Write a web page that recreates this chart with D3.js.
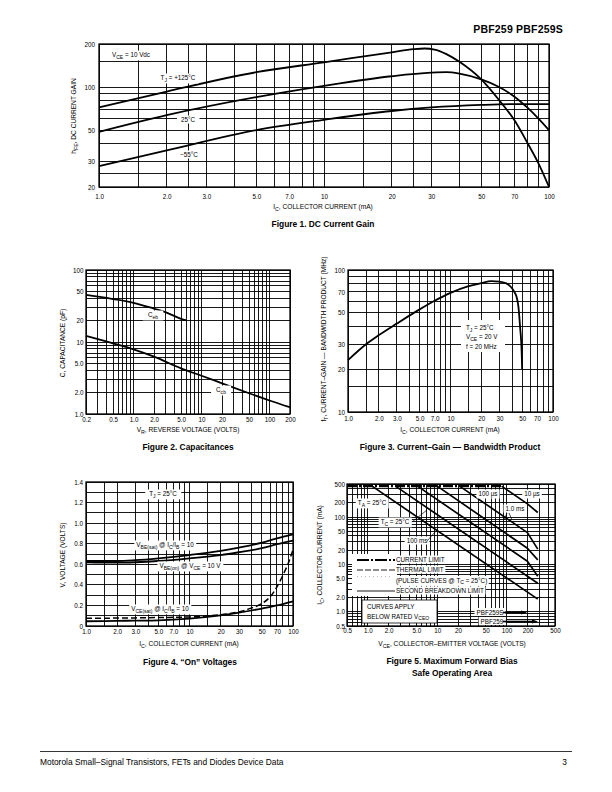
<!DOCTYPE html>
<html><head><meta charset="utf-8">
<script src="https://cdn.jsdelivr.net/npm/d3@7"></script>
<style>
body{margin:0;background:#fff}
svg{display:block}
text{font-family:"Liberation Sans",Arial,Helvetica,sans-serif;fill:#000}
</style>
</head><body><script>
// ---------------- DATA ----------------
// Figure 1: DC current gain
const fig1XTicks=[1,2,3,5,7,10,20,30,50,70,100];
const fig1XLabels=["1.0","2.0","3.0","5.0","7.0","10","20","30","50","70","100"];
const fig1YTicks=[20,30,50,100,200];
const fig1YLabels=["20","30","50","100","200"];
const fig1XGrid=[1,1.5,2,2.5,3,4,5,6,7,8,9,10,15,20,25,30,40,50,60,70,80,90,100];
const fig1YGrid=[20,25,30,40,50,60,70,80,90,100,150,200];
const hfe125Ic=[1,2,5,10,20,25,28,31,35,40,50,60,70,80,90,100];
const hfe125  =[72,93,127,149,175,184,186,183,170,150,113,81,59,41,29,20];
const hfe25Ic =[1,2,5,10,20,30,35,40,50,60,70,80,90,100];
const hfe25   =[48.6,63.6,85,102,119,126,127,124,113,100,86,72,60,50];
const hfe55Ic =[1,2,5,10,20,30,50,70,100];
const hfe55   =[28,36,50,59,68,72,75,76,76];

// Figure 2: capacitances
const fig2XTicks=[0.2,0.5,1,2,5,10,20,50,100,200];
const fig2XLabels=["0.2","0.5","1.0","2.0","5.0","10","20","50","100","200"];
const fig2YTicks=[1,2,5,10,20,50,100];
const fig2YLabels=["1.0","2.0","5.0","10","20","50","100"];
const cebVr=[0.2,0.5,1,2,3,5,6];
const ceb  =[45,39.5,35,29,25.8,21,20];
const ccbVr=[0.2,0.5,1,2,5,10,20,50,100,200];
const ccb  =[12.2,9.6,7.9,6.25,4.3,3.4,2.67,1.94,1.54,1.24];

// Figure 3: fT
const fig3XTicks=[1,2,3,5,7,10,20,30,50,70,100];
const fig3XLabels=["1.0","2.0","3.0","5.0","7.0","10","20","30","50","70","100"];
const fig3YTicks=[10,20,30,50,70,100];
const fig3YLabels=["10","20","30","50","70","100"];
const fig3XGrid=[1,1.5,2,3,4,5,6,7,8,9,10,15,20,30,40,50,60,70,80,90,100];
const fig3YGrid=[10,15,20,30,40,50,60,70,80,90,100];
const ftIc=[1,1.5,2,3,5,7,10,15,20,25,30,35,40,42,44.3,46,47.7,49.5,50];
const ft  =[23.2,30,34.8,42,52.8,60.7,69,77,81,83.6,82.7,80.5,74,70,64,55,40,26,20];

// Figure 4: "On" voltages
const fig4XTicks=[1,2,3,5,7,10,20,30,50,70,100];
const fig4XLabels=["1.0","2.0","3.0","5.0","7.0","10","20","30","50","70","100"];
const fig4YTicks=[0,0.2,0.4,0.6,0.8,1.0,1.2,1.4];
const fig4YLabels=["0","0.2","0.4","0.6","0.8","1.0","1.2","1.4"];
const fig4XGrid=[1,1.5,2,3,4,5,6,7,8,9,10,15,20,30,40,50,60,70,80,90,100];
const onIc=[1,2,3,5,10,20,30,50,70,100];
const vbeSat=[0.632,0.632,0.64,0.658,0.69,0.73,0.762,0.81,0.853,0.892];
const vbeOn =[0.619,0.616,0.62,0.632,0.658,0.69,0.717,0.756,0.795,0.83];
const vceSat=[0.046,0.05,0.052,0.055,0.072,0.104,0.13,0.17,0.2,0.24];
const vceSatHotIc=[1,2,5,10,20,30,40,50,60,70,80,90,100];
const vceSatHot  =[0.075,0.077,0.082,0.088,0.11,0.137,0.176,0.218,0.283,0.38,0.495,0.61,0.74];

// Figure 5: SOA
const fig5XTicks=[0.5,1,2,5,10,20,50,100,200,500];
const fig5XLabels=["0.5","1.0","2.0","5.0","10","20","50","100","200","500"];
const fig5YTicks=[0.5,1,2,5,10,20,50,100,200,500];
const fig5YLabels=["0.5","1.0","2.0","5.0","10","20","50","100","200","500"];
const currentLimitV=[0.5,85], currentLimitI=[450,450];
const soa10usV=[85,200,282],   soa10usI=[450,190,125];
const soa100usV=[21,200,282],  soa100usI=[450,47,21];
const soa1msV=[10,200,282],    soa1msI=[450,22,12.5];
const soa100msV=[5.2,200,282], soa100msI=[450,11.7,5.6];
const soaTcV=[2.5,282],        soaTcI=[450,4.0];
const soaTaV=[1.15,282],       soaTaI=[450,1.85];

// ---------------- HELPERS ----------------
const svg=d3.select('body').append('svg').attr('width',612).attr('height',792);
const FS=6.3;

function rich(sel,s,fs){
  const parts=s.split(/(_\{[^}]*\}|\^\{[^}]*\})/).filter(p=>p.length);
  let shift=0;
  parts.forEach(p=>{
    let t=p,target=0,small=false;
    if(p.startsWith('_{')){t=p.slice(2,-1);target=0.3*fs;small=true;}
    else if(p.startsWith('^{')){t=p.slice(2,-1);target=-0.4*fs;small=true;}
    const ts=sel.append('tspan').text(t).attr('dy',(target-shift));
    shift=target;
    if(small) ts.attr('font-size',fs*0.8);
  });
}
function label(g,x,y,s,o={}){
  const fs=o.fs||FS;
  const t=g.append('text').attr('x',x).attr('y',y).attr('font-size',fs)
    .attr('text-anchor',o.anchor||'middle');
  if(o.bold) t.attr('font-weight','bold');
  rich(t,s,fs);
  if(o.bg){
    const b=t.node().getBBox(); const p=o.pad==null?2:o.pad;
    g.insert('rect',()=>t.node()).attr('x',b.x-p).attr('y',b.y-0.5).attr('width',b.width+2*p).attr('height',b.height+1).attr('fill','#fff');
  }
  return t;
}
function logGrid(lo,hi){
  const out=[];
  for(let e=-2;e<=3;e++) for(let k=1;k<=9;k++){const v=k*Math.pow(10,e); if(v>=lo*0.9999&&v<=hi*1.0001) out.push(v);}
  return out;
}
function panel(o){
  const g=svg.append('g');
  const x=(o.xLog?d3.scaleLog():d3.scaleLinear()).domain(o.xDomain).range([o.x0,o.x1]);
  const y=(o.yLog?d3.scaleLog():d3.scaleLinear()).domain(o.yDomain).range([o.y1,o.y0]);
  const grid=g.append('g').attr('stroke','#000').attr('stroke-width',0.9).attr('shape-rendering','crispEdges');
  grid.selectAll('.vx').data(o.xGrid).join('line').attr('x1',d=>x(d)).attr('x2',d=>x(d)).attr('y1',o.y0).attr('y2',o.y1);
  grid.selectAll('.hy').data(o.yGrid).join('line').attr('y1',d=>y(d)).attr('y2',d=>y(d)).attr('x1',o.x0).attr('x2',o.x1);
  g.append('rect').attr('x',o.x0).attr('y',o.y0).attr('width',o.x1-o.x0).attr('height',o.y1-o.y0)
    .attr('fill','none').attr('stroke','#000').attr('stroke-width',1.3);
  const ax=g.append('g').attr('transform',`translate(0,${o.y1})`)
    .call(d3.axisBottom(x).tickValues(o.xTicks).tickFormat((d,i)=>o.xLabels[i]).tickSize(0).tickPadding(o.xBase-o.y1-0.71*FS));
  const ay=g.append('g').attr('transform',`translate(${o.x0},0)`)
    .call(d3.axisLeft(y).tickValues(o.yTicks).tickFormat((d,i)=>o.yLabels[i]).tickSize(0).tickPadding(o.x0-o.yRight));
  [ax,ay].forEach(a=>{a.select('.domain').remove(); a.selectAll('text').attr('font-size',FS).attr('font-family','"Liberation Sans",Arial,sans-serif').attr('fill','#000');});
  const cx=(o.x0+o.x1)/2;
  label(g,o.xTitleX||cx,o.xTitleY,o.xTitle,{fs:6.6});
  const yt=g.append('text').attr('transform',`translate(${o.yTitleX},${o.yTitleY}) rotate(-90)`).attr('text-anchor','middle').attr('font-size',6.6);
  rich(yt,o.yTitle,6.6);
  (o.caption||[]).forEach((c,i)=>label(g,o.capX||cx,o.capY+i*12,c,{fs:8.4,bold:true}));
  return {g,x,y};
}
function curve(p,xs,ys,opt={}){
  const pts=xs.map((v,i)=>[p.x(v),p.y(ys[i])]);
  const ln=d3.line().curve(opt.linear?d3.curveLinear:d3.curveMonotoneX);
  p.g.append('path').attr('d',ln(pts)).attr('fill','none').attr('stroke','#000')
    .attr('stroke-width',opt.w||1.8).attr('stroke-dasharray',opt.dash||null).attr('stroke-linejoin','round');
}

// ---------------- HEADER ----------------
svg.append('text').attr('x',563).attr('y',33).attr('text-anchor','end').attr('font-size',10.5)
  .attr('font-weight',900).attr('letter-spacing',0.2).text('PBF259 PBF259S');

// ---------------- FIGURE 1 ----------------
const p1=panel({x0:99,x1:549,y0:44,y1:187,xLog:true,yLog:true,xDomain:[1,100],yDomain:[20,200],
  xGrid:fig1XGrid,yGrid:fig1YGrid,xTicks:fig1XTicks,xLabels:fig1XLabels,yTicks:fig1YTicks,yLabels:fig1YLabels,
  xBase:198.5,yRight:95,xTitle:'I_{C}, COLLECTOR CURRENT (mA)',xTitleY:209,xTitleX:323,
  yTitle:'h_{FE}, DC CURRENT GAIN',yTitleX:76,yTitleY:116,caption:['Figure 1. DC Current Gain'],capY:227,capX:323});
curve(p1,hfe125Ic,hfe125); curve(p1,hfe25Ic,hfe25); curve(p1,hfe55Ic,hfe55);
label(p1.g,112,57,'V_{CE} = 10 Vdc',{anchor:'start',bg:true,pad:6});
label(p1.g,178,80,'T_{J} = +125°C',{bg:true,pad:3});
label(p1.g,188,122,'25°C',{bg:true,pad:4});
label(p1.g,189,157,'−55°C',{bg:true,pad:4});

// ---------------- FIGURE 2 ----------------
const p2=panel({x0:86,x1:290,y0:270,y1:414,xLog:true,yLog:true,xDomain:[0.2,200],yDomain:[1,100],
  xGrid:logGrid(0.2,200),yGrid:logGrid(1,100),xTicks:fig2XTicks,xLabels:fig2XLabels,yTicks:fig2YTicks,yLabels:fig2YLabels,
  xBase:421.5,yRight:83.5,xTitle:'V_{R}, REVERSE VOLTAGE (VOLTS)',xTitleY:432,xTitleX:188,
  yTitle:'C, CAPACITANCE (pF)',yTitleX:65,yTitleY:343,caption:['Figure 2. Capacitances'],capY:450,capX:188});
curve(p2,cebVr,ceb); curve(p2,ccbVr,ccb);
label(p2.g,153,317,'C_{eb}',{bg:true,pad:5});
label(p2.g,221,392,'C_{cb}',{bg:true,pad:5});

// ---------------- FIGURE 3 ----------------
const p3=panel({x0:348,x1:553,y0:270,y1:412,xLog:true,yLog:true,xDomain:[1,100],yDomain:[10,100],
  xGrid:fig3XGrid,yGrid:fig3YGrid,xTicks:fig3XTicks,xLabels:fig3XLabels,yTicks:fig3YTicks,yLabels:fig3YLabels,
  xBase:420.5,yRight:345,xTitle:'I_{C}, COLLECTOR CURRENT (mA)',xTitleY:432,xTitleX:450,
  yTitle:'f_{T}, CURRENT–GAIN — BANDWIDTH PRODUCT (MHz)',yTitleX:326,yTitleY:339,
  caption:['Figure 3. Current–Gain — Bandwidth Product'],capY:450,capX:450});
curve(p3,ftIc,ft);
p3.g.append('rect').attr('x',461).attr('y',320).attr('width',44).attr('height',32).attr('fill','#fff');
label(p3.g,466,330,'T_{J} = 25°C',{anchor:'start'});
label(p3.g,466,339,'V_{CE} = 20 V',{anchor:'start'});
label(p3.g,466,348.5,'f = 20 MHz',{anchor:'start'});

// ---------------- FIGURE 4 ----------------
const p4=panel({x0:86,x1:293,y0:482,y1:626,xLog:true,yLog:false,xDomain:[1,100],yDomain:[0,1.4],
  xGrid:fig4XGrid,yGrid:d3.range(0,15).map(i=>i/10),xTicks:fig4XTicks,xLabels:fig4XLabels,yTicks:fig4YTicks,yLabels:fig4YLabels,
  xBase:634,yRight:83,xTitle:'I_{C}, COLLECTOR CURRENT (mA)',xTitleY:646,xTitleX:189,
  yTitle:'V, VOLTAGE (VOLTS)',yTitleX:65,yTitleY:555,caption:['Figure 4. “On” Voltages'],capY:665,capX:190});
curve(p4,onIc,vbeSat); curve(p4,onIc,vbeOn); curve(p4,onIc,vceSat);
curve(p4,vceSatHotIc,vceSatHot,{dash:'6,3',w:1.5});
label(p4.g,163,496,'T_{J} = 25°C',{bg:true,pad:4});
label(p4.g,165,547,'V_{BE(sat)} @ I_{C}/I_{B} = 10',{bg:true,pad:2});
label(p4.g,190,568,'V_{BE(on)} @ V_{CE} = 10 V',{bg:true,pad:2});
label(p4.g,160,611,'V_{CE(sat)} @ I_{C}/I_{B} = 10',{bg:true,pad:2});

// ---------------- FIGURE 5 ----------------
const p5=panel({x0:347,x1:555,y0:484,y1:626,xLog:true,yLog:true,xDomain:[0.5,500],yDomain:[0.5,500],
  xGrid:logGrid(0.5,500),yGrid:logGrid(0.5,500),xTicks:fig5XTicks,xLabels:fig5XLabels,yTicks:fig5YTicks,yLabels:fig5YLabels,
  xBase:633,yRight:345,xTitle:'V_{CE}, COLLECTOR–EMITTER VOLTAGE (VOLTS)',xTitleY:646,xTitleX:452,
  yTitle:'I_{C}, COLLECTOR CURRENT (mA)',yTitleX:322,yTitleY:555,
  caption:['Figure 5. Maximum Forward Bias','Safe Operating Area'],capY:664,capX:452});
curve(p5,currentLimitV,currentLimitI,{linear:true,w:2.2,dash:'10,2,2,2'});
[[soa10usV,soa10usI],[soa100usV,soa100usI],[soa1msV,soa1msI],[soa100msV,soa100msI],[soaTcV,soaTcI],[soaTaV,soaTaI]]
  .forEach(([v,i])=>curve(p5,v,i,{linear:true,w:1.7}));
// legend
const lg=p5.g.append('g');
lg.append('rect').attr('x',352).attr('y',554).attr('width',45).attr('height',42).attr('fill','#fff');
const legRows=[['CURRENT LIMIT',562],['THERMAL LIMIT',572],['(PULSE CURVES @ T_{C} = 25°C)',582.5],['SECOND BREAKDOWN LIMIT',593]];
legRows.forEach(([s,yy])=>label(lg,396,yy,s,{anchor:'start',bg:true,pad:1.5}));
lg.append('line').attr('x1',357).attr('x2',395).attr('y1',560).attr('y2',560).attr('stroke','#000').attr('stroke-width',2.2).attr('stroke-dasharray','12,2,2,2');
lg.append('line').attr('x1',357).attr('x2',395).attr('y1',570).attr('y2',570).attr('stroke','#000').attr('stroke-width',0.9).attr('stroke-dasharray','6,2');
lg.append('line').attr('x1',357).attr('x2',392).attr('y1',576.5).attr('y2',576.5).attr('stroke','#999').attr('stroke-width',0.7).attr('stroke-dasharray','1,3');
lg.append('line').attr('x1',357).attr('x2',395).attr('y1',591).attr('y2',591).attr('stroke','#000').attr('stroke-width',0.9);
// note box
p5.g.append('rect').attr('x',362).attr('y',600).attr('width',75).attr('height',23).attr('fill','#fff').attr('stroke','#000').attr('stroke-width',0.8);
label(p5.g,367,608.5,'CURVES APPLY',{anchor:'start'});
label(p5.g,367,618.5,'BELOW RATED V_{CEO}',{anchor:'start'});
// part labels with arrows
label(p5.g,490,614.5,'PBF259S',{bg:true,pad:2});
label(p5.g,492,623.5,'PBF259',{bg:true,pad:2});
const arrow=(x1,x2,yy)=>{p5.g.append('line').attr('x1',x1).attr('x2',x2).attr('y1',yy).attr('y2',yy).attr('stroke','#000').attr('stroke-width',1.6);
  p5.g.append('path').attr('d',`M${x2+3},${yy} L${x2-3},${yy-2} L${x2-3},${yy+2} Z`).attr('fill','#000');};
arrow(503,524,612.5); arrow(503,535,621.5);
// curve labels
label(p5.g,372,505,'T_{A} = 25°C',{bg:true,pad:2});
label(p5.g,395,524,'T_{C} = 25°C',{bg:true,pad:2});
label(p5.g,417,543,'100 ms',{bg:true,pad:2});
label(p5.g,488,496,'100 µs',{bg:true,pad:2});
label(p5.g,532,496,'10 µs',{bg:true,pad:2});
label(p5.g,515,511,'1.0 ms',{bg:true,pad:2});
const lead=(x1,y1,x2,y2)=>p5.g.append('line').attr('x1',x1).attr('y1',y1).attr('x2',x2).attr('y2',y2).attr('stroke','#000').attr('stroke-width',0.7);
lead(412,522,427,510); lead(427,541,436,531); lead(507,513,504,520); lead(509,513,512,520);

// ---------------- FOOTER ----------------
svg.append('line').attr('x1',40).attr('x2',572).attr('y1',751.5).attr('y2',751.5).attr('stroke','#000').attr('stroke-width',0.8);
svg.append('text').attr('x',40).attr('y',765).attr('font-size',8.4).text('Motorola Small–Signal Transistors, FETs and Diodes Device Data');
svg.append('text').attr('x',567).attr('y',765).attr('font-size',8.4).attr('text-anchor','end').text('3');
</script></body></html>
